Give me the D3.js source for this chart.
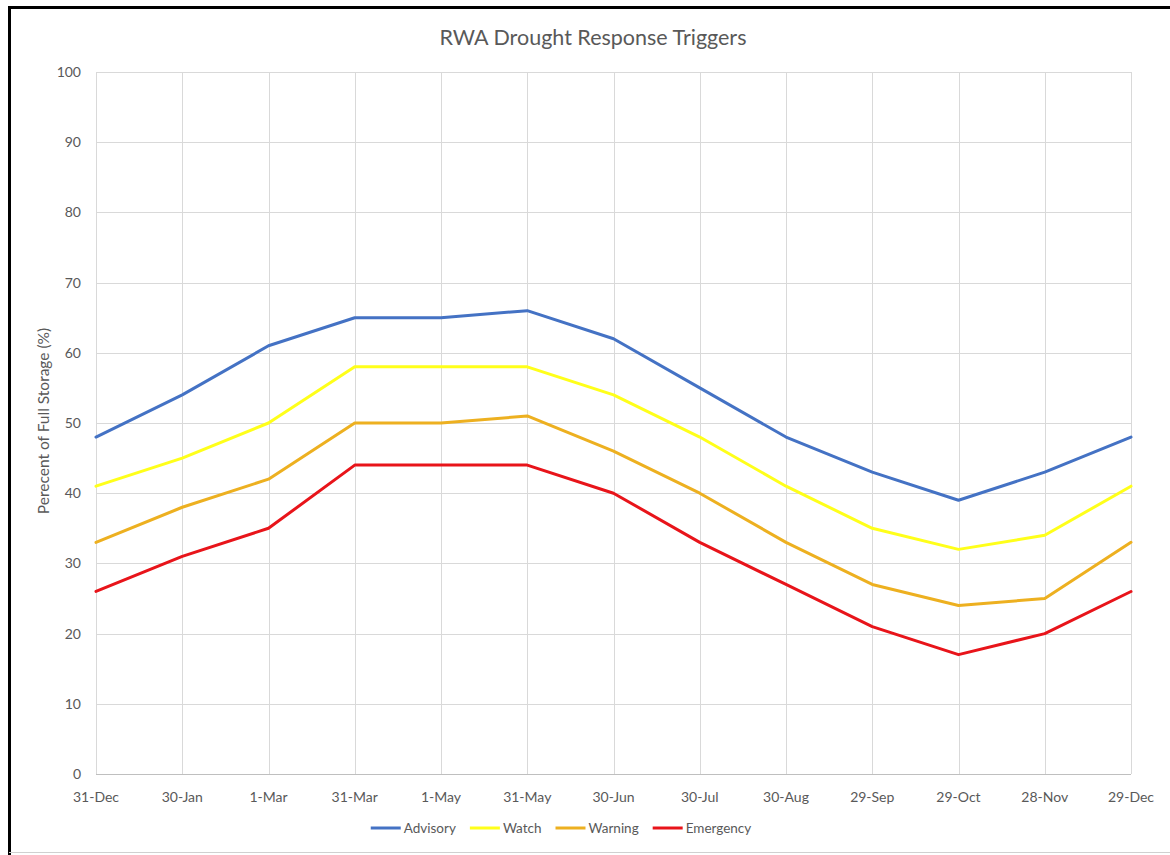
<!DOCTYPE html>
<html><head><meta charset="utf-8">
<script src="https://cdn.jsdelivr.net/npm/d3@7"></script>
<style>body{margin:0;background:#fff}svg{display:block}</style>
</head><body>
<script>
const categories = ["31-Dec","30-Jan","1-Mar","31-Mar","1-May","31-May","30-Jun","30-Jul","30-Aug","29-Sep","29-Oct","28-Nov","29-Dec"];
const advisory  = [48,54,61,65,65,66,62,55,48,43,39,43,48];
const watch     = [41,45,50,58,58,58,54,48,41,35,32,34,41];
const warning   = [33,38,42,50,50,51,46,40,33,27,24,25,33];
const emergency = [26,31,35,44,44,44,40,33,27,21,17,20,26];
const seriesNames = ["Advisory","Watch","Warning","Emergency"];
const seriesColors = ["#4472C4","#FFFF1A","#EDB020","#E8141A"];
const yTicks = [0,10,20,30,40,50,60,70,80,90,100];
const title = "RWA Drought Response Triggers";
const yTitle = "Perecent of Full Storage (%)";

const W=1170,H=855;
const svg=d3.select("body").append("svg").attr("width",W).attr("height",H);
const font="Lato, 'Open Sans', sans-serif";
// frame
svg.append("rect").attr("x",0).attr("y",0).attr("width",W).attr("height",H).attr("fill","#fff");
svg.append("line").attr("x1",8).attr("x2",W).attr("y1",7.5).attr("y2",7.5).attr("stroke","#000").attr("stroke-width",3);
svg.append("line").attr("x1",9.5).attr("x2",9.5).attr("y1",6).attr("y2",H).attr("stroke","#000").attr("stroke-width",3);
svg.append("line").attr("x1",9).attr("x2",W).attr("y1",852.5).attr("y2",852.5).attr("stroke","#d0d0d0").attr("stroke-width",1);

const x=d3.scalePoint().domain(categories).range([96,1131]);
const y=d3.scaleLinear().domain([0,100]).range([774,72]);

// gridlines
const g=svg.append("g");
g.selectAll(".hg").data(yTicks.filter(d=>d>0)).join("line")
 .attr("x1",96).attr("x2",1131).attr("y1",d=>Math.round(y(d))+0.5).attr("y2",d=>Math.round(y(d))+0.5)
 .attr("stroke","#d9d9d9").attr("stroke-width",1);
g.selectAll(".vg").data(categories).join("line")
 .attr("x1",d=>Math.round(x(d))+0.5).attr("x2",d=>Math.round(x(d))+0.5).attr("y1",72).attr("y2",774)
 .attr("stroke","#d9d9d9").attr("stroke-width",1);
// x axis line
svg.append("line").attr("x1",96).attr("x2",1131).attr("y1",774.5).attr("y2",774.5).attr("stroke","#bfbfbf").attr("stroke-width",1);

// y tick labels
svg.selectAll(".yl").data(yTicks).join("text")
 .attr("x",81).attr("y",d=>y(d)+5).attr("text-anchor","end")
 .attr("font-family",font).attr("font-size",14).attr("fill","#595959").text(d=>d);
// x tick labels
svg.selectAll(".xl").data(categories).join("text")
 .attr("x",d=>x(d)).attr("y",802).attr("text-anchor","middle")
 .attr("font-family",font).attr("font-size",14).attr("fill","#595959").text(d=>d);

// title
svg.append("text").attr("x",593).attr("y",45).attr("text-anchor","middle")
 .attr("font-family",font).attr("font-size",21.5).attr("fill","#595959").text(title);
// y title
svg.append("text").attr("transform","translate(49,421) rotate(-90)").attr("text-anchor","middle")
 .attr("font-family",font).attr("font-size",15.5).attr("fill","#595959").text(yTitle);

const data=[advisory,watch,warning,emergency];
const line=d3.line().x((d,i)=>x(categories[i])).y(d=>y(d));
svg.selectAll(".series").data(data).join("path")
 .attr("d",d=>line(d)).attr("fill","none")
 .attr("stroke",(d,i)=>seriesColors[i]).attr("stroke-width",3).attr("stroke-linejoin","round").attr("stroke-linecap","round");

// legend (laid out from measured text widths, centred)
const lineLen=30, txtGap=3, itemGap=14, legCx=561, legY=828;
const lg=svg.append("g");
const items=lg.selectAll(".leg").data(seriesNames).join("g");
items.append("line").attr("x1",0).attr("x2",lineLen).attr("y1",0).attr("y2",0).attr("stroke",(d,i)=>seriesColors[i]).attr("stroke-width",3);
items.append("text").attr("x",lineLen+txtGap).attr("y",5).attr("font-family",font).attr("font-size",13.5).attr("fill","#595959").text(d=>d);
let widths=[];
items.each(function(){widths.push(lineLen+txtGap+d3.select(this).select("text").node().getComputedTextLength());});
const total=d3.sum(widths)+itemGap*(widths.length-1);
let cx=legCx-total/2;
items.attr("transform",(d,i)=>{const t=`translate(${cx},${legY})`;cx+=widths[i]+itemGap;return t;});
</script>
</body></html>
